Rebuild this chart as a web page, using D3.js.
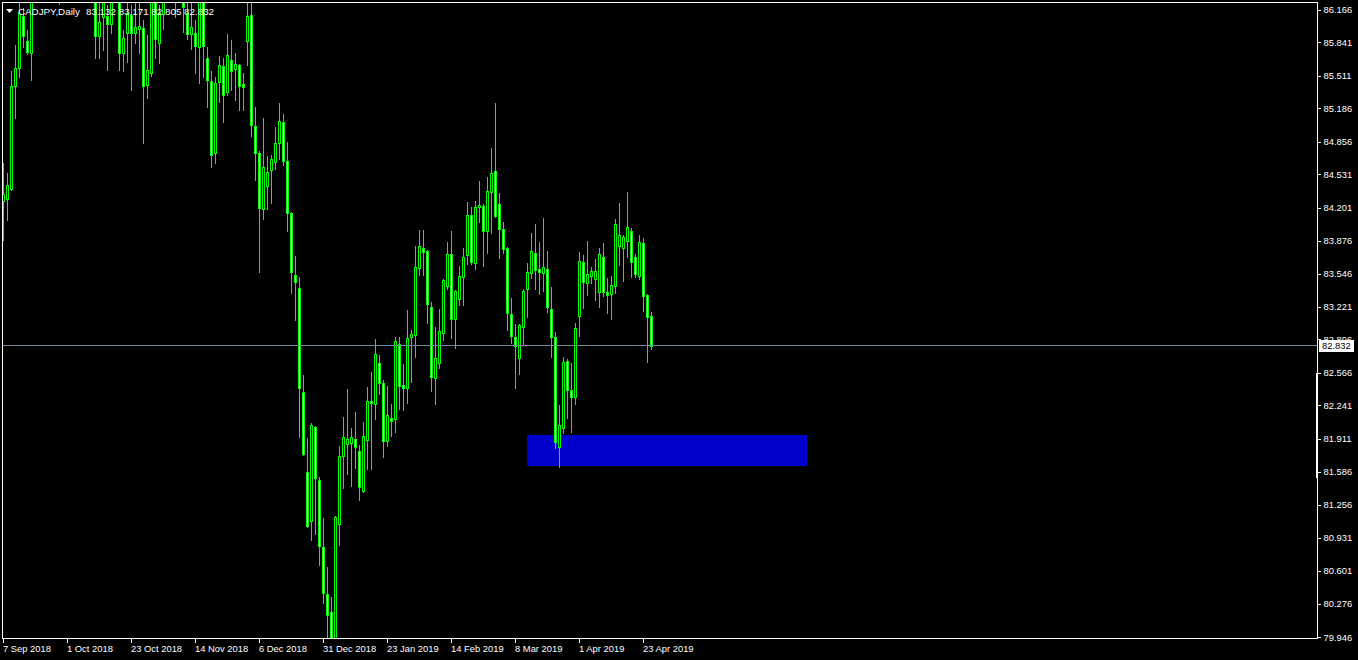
<!DOCTYPE html>
<html><head><meta charset="utf-8">
<script src="https://cdn.jsdelivr.net/npm/d3@7"></script>
<style>html,body{margin:0;padding:0;background:#000;overflow:hidden}</style>
</head><body><svg id="c" width="1358" height="660"></svg>
<script>
const symbolTitle = "CADJPY,Daily";
const dates = [
"2018-09-07","2018-09-10","2018-09-11","2018-09-12","2018-09-13","2018-09-14","2018-09-17","2018-09-18","2018-09-19","2018-09-20","2018-09-21","2018-09-24","2018-09-25","2018-09-26","2018-09-27","2018-09-28",
"2018-10-01","2018-10-02","2018-10-03","2018-10-04","2018-10-05","2018-10-08","2018-10-09","2018-10-10","2018-10-11","2018-10-12","2018-10-15","2018-10-16","2018-10-17","2018-10-18","2018-10-19","2018-10-22","2018-10-23","2018-10-24","2018-10-25","2018-10-26","2018-10-29","2018-10-30","2018-10-31",
"2018-11-01","2018-11-02","2018-11-05","2018-11-06","2018-11-07","2018-11-08","2018-11-09","2018-11-12","2018-11-13","2018-11-14","2018-11-15","2018-11-16","2018-11-19","2018-11-20","2018-11-21","2018-11-22","2018-11-23","2018-11-26","2018-11-27","2018-11-28","2018-11-29","2018-11-30",
"2018-12-03","2018-12-04","2018-12-05","2018-12-06","2018-12-07","2018-12-10","2018-12-11","2018-12-12","2018-12-13","2018-12-14","2018-12-17","2018-12-18","2018-12-19","2018-12-20","2018-12-21","2018-12-24","2018-12-26","2018-12-27","2018-12-28","2018-12-31",
"2019-01-02","2019-01-03","2019-01-04","2019-01-07","2019-01-08","2019-01-09","2019-01-10","2019-01-11","2019-01-14","2019-01-15","2019-01-16","2019-01-17","2019-01-18","2019-01-21","2019-01-22","2019-01-23","2019-01-24","2019-01-25","2019-01-28","2019-01-29","2019-01-30","2019-01-31",
"2019-02-01","2019-02-04","2019-02-05","2019-02-06","2019-02-07","2019-02-08","2019-02-11","2019-02-12","2019-02-13","2019-02-14","2019-02-15","2019-02-18","2019-02-19","2019-02-20","2019-02-21","2019-02-22","2019-02-25","2019-02-26","2019-02-27","2019-02-28",
"2019-03-01","2019-03-04","2019-03-05","2019-03-06","2019-03-07","2019-03-08","2019-03-11","2019-03-12","2019-03-13","2019-03-14","2019-03-15","2019-03-18","2019-03-19","2019-03-20","2019-03-21","2019-03-22","2019-03-25","2019-03-26","2019-03-27","2019-03-28","2019-03-29",
"2019-04-01","2019-04-02","2019-04-03","2019-04-04","2019-04-05","2019-04-08","2019-04-09","2019-04-10","2019-04-11","2019-04-12","2019-04-15","2019-04-16","2019-04-17","2019-04-18","2019-04-19","2019-04-22","2019-04-23","2019-04-24","2019-04-25"];

const open = [84.268,84.288,84.387,85.408,85.586,86.101,85.854,85.735,86.46,86.70,86.60,86.90,87.20,86.95,86.60,86.55,87.10,87.80,88.20,88.10,87.50,87.00,86.70,86.409,85.903,86.092,86.101,86.022,86.30,86.310,85.735,85.933,86.111,85.933,85.973,85.983,85.418,85.537,86.310,85.834,86.121,86.32,86.45,86.55,86.40,86.35,86.131,85.923,85.933,85.794,86.310,85.685,85.457,84.744,85.447,85.606,85.348,85.665,85.576,85.616,85.428,85.854,86.111,85.011,84.744,84.189,84.417,84.575,84.655,84.843,85.051,84.665,84.149,83.535,83.406,82.375,81.583,81.097,82.028,81.503,80.839,80.373,80.195,79.88,81.067,81.741,81.860,81.870,81.910,81.791,81.394,81.900,82.286,82.256,82.663,82.465,81.890,82.118,82.108,82.851,82.445,82.415,82.920,82.940,83.604,83.802,83.773,83.218,82.514,82.663,82.960,83.426,83.743,83.099,83.297,83.515,83.733,84.129,83.654,84.209,84.219,83.971,84.357,84.565,84.238,83.991,83.802,83.148,82.920,82.712,83.019,83.396,83.555,83.753,83.594,83.555,83.594,83.198,82.920,81.830,82.019,82.682,82.395,82.326,83.128,83.664,83.456,83.525,83.495,83.366,83.713,83.366,83.346,83.426,83.822,83.802,83.872,83.971,83.713,83.525,83.852,83.337,83.132];
const high = [84.645,84.546,85.556,85.814,86.359,86.181,85.963,86.656,86.80,86.95,87.00,87.30,87.40,87.10,86.75,87.20,87.90,88.40,88.60,88.30,87.70,87.20,86.90,86.508,86.230,86.339,86.210,86.359,86.50,86.409,85.963,86.280,86.210,86.280,86.290,86.062,85.913,86.409,86.359,86.210,86.409,86.55,86.70,86.65,86.60,86.45,86.230,86.310,86.062,86.359,86.359,85.794,85.556,85.497,85.705,85.685,85.923,85.864,85.735,85.626,85.537,86.230,86.230,85.200,84.764,85.091,84.714,84.724,85.001,85.239,85.130,84.853,84.160,83.723,83.515,82.544,81.919,82.068,82.038,81.533,81.127,80.641,80.344,81.146,81.840,82.128,82.405,82.019,82.177,81.850,82.078,82.425,82.575,82.901,82.742,82.494,82.435,82.256,82.920,82.920,82.653,83.188,82.990,83.822,83.981,83.981,83.783,83.267,83.019,83.198,83.495,83.862,83.971,83.386,83.624,83.802,84.258,84.209,84.268,84.466,84.238,84.506,84.793,85.239,84.347,84.060,83.812,83.307,83.049,83.049,83.396,83.654,83.951,84.040,83.862,84.100,83.773,83.416,82.970,82.246,82.722,82.702,82.663,83.059,83.763,83.733,83.872,83.614,83.693,83.802,83.852,83.505,83.525,84.090,84.248,83.931,84.357,84.001,83.743,83.931,83.901,83.346,83.171];
const low = [83.882,84.080,84.377,85.091,85.497,85.794,85.725,85.467,86.30,86.45,86.40,86.70,86.80,86.50,86.22,86.45,87.00,87.60,87.90,87.40,86.90,86.60,86.30,85.685,85.685,85.765,85.566,85.933,86.28,85.566,85.556,85.646,85.368,85.834,85.735,84.843,85.289,85.507,85.685,85.636,85.973,86.28,86.30,86.092,86.28,85.943,85.874,85.774,85.537,85.437,85.497,85.200,84.605,84.645,85.249,85.051,85.319,85.368,85.269,85.170,85.170,85.616,84.912,84.476,83.565,84.090,84.189,84.248,84.585,84.684,84.625,83.971,83.356,83.089,81.929,81.751,81.037,80.909,80.968,80.661,80.284,79.818,78.20,79.60,80.859,81.424,81.563,81.444,81.622,81.305,81.384,81.612,81.612,82.108,82.356,81.731,81.840,81.939,81.979,82.207,82.197,82.266,82.474,82.722,83.535,83.535,83.059,82.385,82.256,82.613,82.891,83.396,82.910,82.811,83.237,83.237,83.644,83.644,83.594,84.060,83.624,83.753,83.951,84.110,83.703,83.753,82.990,82.861,82.415,82.554,82.851,83.119,83.505,83.396,83.346,83.376,83.168,82.722,81.820,81.632,81.969,82.118,81.979,82.256,82.930,83.208,83.337,83.456,83.287,83.218,83.327,83.158,83.099,83.356,83.634,83.475,83.713,83.515,83.515,83.495,83.178,82.673,82.805];
const close = [84.337,84.427,85.408,85.586,86.131,85.903,85.745,86.458,86.70,86.60,86.90,87.20,86.95,86.60,86.55,87.10,87.80,88.20,88.10,87.50,87.00,86.70,86.40,85.903,86.042,86.240,86.022,86.260,86.40,85.735,85.883,86.131,85.933,85.992,86.002,85.408,85.566,86.310,85.873,86.131,86.310,86.45,86.60,86.40,86.50,86.19,85.923,85.992,85.804,86.310,85.804,85.467,84.724,85.437,85.616,85.319,85.715,85.556,85.626,85.408,85.398,86.101,85.021,84.744,84.199,84.605,84.555,84.684,84.843,85.061,84.665,84.149,83.565,83.465,82.415,81.761,81.047,82.048,81.523,80.849,80.383,80.165,79.85,81.137,81.741,81.929,81.910,81.929,81.830,81.434,81.939,82.286,82.266,82.752,82.465,81.890,82.147,82.088,82.881,82.435,82.415,82.910,82.950,83.614,83.822,83.763,83.247,82.524,82.712,82.980,83.485,83.743,83.099,83.376,83.525,83.713,84.129,83.664,84.209,84.228,83.971,84.367,84.546,84.119,83.991,83.792,83.158,82.930,82.831,83.039,83.376,83.565,83.773,83.584,83.565,83.614,83.218,82.920,81.880,82.048,82.673,82.395,82.326,83.009,83.674,83.465,83.545,83.574,83.574,83.743,83.366,83.337,83.436,84.040,83.931,83.911,84.010,83.664,83.545,83.862,83.327,83.119,82.832];

const priceTicks = [86.166,85.841,85.511,85.186,84.856,84.531,84.201,83.876,83.546,83.221,82.896,82.566,82.241,81.911,81.586,81.256,80.931,80.601,80.276,79.946];
const timeTickDates = ["2018-09-07","2018-10-01","2018-10-23","2018-11-14","2018-12-06","2018-12-31","2019-01-23","2019-02-14","2019-03-08","2019-04-01","2019-04-23"];
const timeTickLabels = ["7 Sep 2018","1 Oct 2018","23 Oct 2018","14 Nov 2018","6 Dec 2018","31 Dec 2018","23 Jan 2019","14 Feb 2019","8 Mar 2019","1 Apr 2019","23 Apr 2019"];
const zoneStartDate = "2019-03-13";
const zoneLengthBars = 70;
const zonePrices = [81.949, 81.642];
const scaleMarkerPrices = [82.566, 81.52];

const W = 1358, H = 660;
const FONT = "'Liberation Sans', Arial, sans-serif";
const AXIS_FS = "9.4px";
const svg = d3.select("#c").attr("shape-rendering","crispEdges");
svg.append("rect").attr("width",W).attr("height",H).attr("fill","#000");

const x = d3.scaleLinear().domain([0, 1]).range([3, 7]);
const y = d3.scaleLinear().domain([79.946, 86.166]).range([637, 9.5]);
const px = i => Math.round(x(i));
const py = v => Math.round(y(v));

svg.append("defs").append("clipPath").attr("id","clip")
  .append("rect").attr("x",3).attr("y",3).attr("width",1314).attr("height",635);

const g = svg.append("g").attr("clip-path","url(#clip)");

const zs = dates.indexOf(zoneStartDate);
g.append("rect")
  .attr("x", px(zs)).attr("width", px(zs + zoneLengthBars) - px(zs))
  .attr("y", py(zonePrices[0])).attr("height", py(zonePrices[1]) - py(zonePrices[0]))
  .attr("fill", "#0000CD");

const bars = dates.map((d,i) => ({i, o:open[i], h:high[i], l:low[i], c:close[i]}));
const LIME = "#00FF00";

g.append("g").selectAll("rect").data(bars).join("rect")
  .attr("x", d => px(d.i)).attr("width", 1)
  .attr("y", d => py(d.h)).attr("height", d => Math.max(1, py(d.l) - py(d.h) + 1))
  .attr("fill", LIME);

g.append("g").selectAll("rect").data(bars).join("rect")
  .attr("x", d => px(d.i) - 1).attr("width", 3)
  .attr("y", d => py(Math.max(d.o, d.c)))
  .attr("height", d => py(Math.min(d.o, d.c)) - py(Math.max(d.o, d.c)) + 1)
  .attr("fill", LIME);

g.append("g").selectAll("rect")
  .data(bars.filter(d => py(Math.min(d.o, d.c)) - py(Math.max(d.o, d.c)) >= 2)).join("rect")
  .attr("x", d => px(d.i)).attr("width", 1)
  .attr("y", d => py(Math.max(d.o, d.c)) + 1)
  .attr("height", d => py(Math.min(d.o, d.c)) - py(Math.max(d.o, d.c)) - 1)
  .attr("fill", d => d.c >= d.o ? "#000" : "#FFF");

const last = close.length - 1;
const lastY = Math.floor(y(close[last]));
svg.append("rect").attr("x", 2).attr("y", lastY).attr("width", 1315).attr("height", 1).attr("fill", "#778899");

svg.append("rect").attr("x",2.5).attr("y",2.5).attr("width",1315).attr("height",636)
  .attr("fill","none").attr("stroke","#FFF").attr("stroke-width",1);

const yAxis = d3.axisRight(y).tickValues(priceTicks).tickFormat(d3.format(".3f"))
  .tickSizeInner(3).tickSizeOuter(0).tickPadding(3);
const ya = svg.append("g").attr("transform","translate(1317.5,0)").call(yAxis);
ya.select(".domain").remove();
ya.selectAll("line").attr("stroke","#FFF");
ya.selectAll("text").attr("fill","#FFF").style("font-family",FONT).style("font-size",AXIS_FS);

const tickIdx = timeTickDates.map(d => dates.indexOf(d));
const xAxis = d3.axisBottom(x).tickValues(tickIdx)
  .tickFormat((d,k) => timeTickLabels[k]).tickSizeInner(4).tickSizeOuter(0).tickPadding(2.5);
const xa = svg.append("g").attr("transform","translate(0,638.5)").call(xAxis);
xa.select(".domain").remove();
xa.selectAll("line").attr("stroke","#FFF");
xa.selectAll("text").attr("fill","#FFF").attr("text-anchor","start").attr("dx","-0.5")
  .style("font-family",FONT).style("font-size",AXIS_FS);

const bidY = y(close[last]);
svg.append("rect").attr("x",1319).attr("y",Math.round(bidY)-6).attr("width",35).attr("height",12).attr("fill","#FFF");
svg.append("text").attr("x",1322).attr("y",bidY).attr("dy","0.34em")
  .attr("fill","#000").style("font-family",FONT).style("font-size",AXIS_FS)
  .text(close[last].toFixed(3));

svg.append("rect").attr("x",1316).attr("width",2)
  .attr("y", py(scaleMarkerPrices[0])).attr("height", py(scaleMarkerPrices[1]) - py(scaleMarkerPrices[0]))
  .attr("fill","#FFF");

svg.append("path").attr("d","M6,9L13,9L9.5,13Z").attr("fill","#FFF").attr("shape-rendering","auto");
const t = svg.append("text").attr("x",18).attr("y",14.5).attr("fill","#FFF")
  .style("font-family",FONT).style("font-size","9.8px");
t.append("tspan").text(symbolTitle);
t.append("tspan").attr("x",86).text([open[last],high[last],low[last],close[last]].map(v=>v.toFixed(3)).join(" "));
</script>
</body></html>
